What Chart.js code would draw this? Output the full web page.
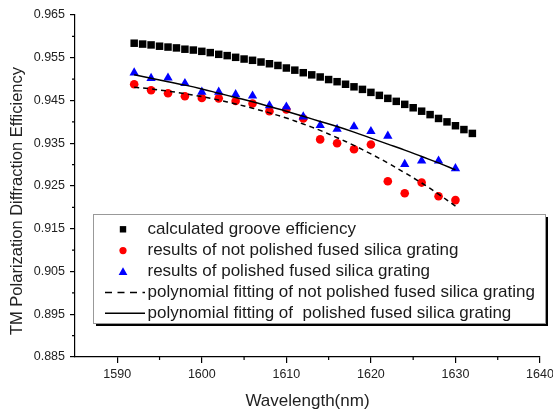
<!DOCTYPE html>
<html>
<head>
<meta charset="utf-8">
<script src="https://cdn.jsdelivr.net/npm/chart.js@4.4.1/dist/chart.umd.min.js"></script>
<style>
  html, body { margin: 0; padding: 0; background: #fff; }
  #wrap { width: 553px; height: 413px; }
</style>
</head>
<body>
<div id="wrap"><canvas id="c" width="553" height="413"></canvas></div>
<script>
const FONT = '"Liberation Sans", Arial, sans-serif';

// calculated groove efficiency (1 nm step)
const calcWl = [1592,1593,1594,1595,1596,1597,1598,1599,1600,1601,1602,1603,1604,1605,1606,1607,1608,1609,1610,1611,
                1612,1613,1614,1615,1616,1617,1618,1619,1620,1621,1622,1623,1624,1625,1626,1627,1628,1629,1630,1631,1632];
const calcEff = [0.9584,0.9582,0.9580,0.9577,0.9575,0.9573,0.9570,0.9568,0.9565,0.9562,0.9558,0.9555,0.9551,0.9547,
                 0.9544,0.9540,0.9536,0.9532,0.9526,0.9521,0.9515,0.9510,0.9505,0.9499,0.9494,0.9488,0.9482,0.9476,
                 0.9469,0.9462,0.9455,0.9448,0.9441,0.9433,0.9425,0.9417,0.9408,0.9400,0.9391,0.9382,0.9373];

// measured gratings (2 nm step)
const measWl = [1592,1594,1596,1598,1600,1602,1604,1606,1608,1610,1612,1614,1616,1618,1620,1622,1624,1626,1628,1630];
const notPolished = [0.9488,0.9474,0.9467,0.9460,0.9456,0.9455,0.9449,0.9443,0.9425,0.9429,0.9408,0.9359,0.9350,0.9336,
                     0.9347,0.9261,0.9233,0.9258,0.9226,0.9217];
const polished = [0.9515,0.9502,0.9503,0.9490,0.9470,0.9470,0.9464,0.9461,0.9438,0.9435,0.9412,0.9392,0.9383,0.9389,
                  0.9378,0.9367,0.9301,0.9309,0.9309,0.9291];

// polynomial fits
const fitNotPolished = [0.9481,0.9477,0.9472,0.9466,0.9459,0.9451,0.9442,0.9432,0.9421,0.9409,0.9395,0.9380,0.9363,
                        0.9345,0.9325,0.9304,0.9281,0.9257,0.9231,0.9203];
const fitPolished = [0.9510,0.9502,0.9494,0.9486,0.9477,0.9467,0.9457,0.9447,0.9436,0.9425,0.9413,0.9401,0.9389,
                     0.9376,0.9362,0.9348,0.9334,0.9319,0.9304,0.9288];

const xTicks = [1590,1600,1610,1620,1630,1640];
const xMinor = [1595,1605,1615,1625,1635];
const yTicks = [0.885,0.895,0.905,0.915,0.925,0.935,0.945,0.955,0.965];
const yMinor = [0.890,0.900,0.910,0.920,0.930,0.940,0.950,0.960];

const seriesLabels = [
  'calculated groove efficiency',
  'results of not polished fused silica grating',
  'results of polished fused silica grating',
  'polynomial fitting of not polished fused silica grating',
  'polynomial fitting of  polished fused silica grating'
];
const yTitle = 'TM Polarization Diffraction Efficiency';
const xTitle = 'Wavelength(nm)';

const pts = (xs, ys) => xs.map((x, i) => ({ x: x, y: ys[i] }));

// minor ticks, rotated y title and the boxed legend
const extras = {
  id: 'extras',
  afterDraw(chart) {
    const ctx = chart.ctx;
    const area = chart.chartArea;
    const x = chart.scales.x, y = chart.scales.y;
    ctx.save();
    ctx.strokeStyle = '#000';
    ctx.lineWidth = 1.2;
    ctx.beginPath();
    yMinor.forEach(v => {
      const py = y.getPixelForValue(v);
      ctx.moveTo(area.left - 3, py); ctx.lineTo(area.left, py);
    });
    xMinor.forEach(v => {
      const px = x.getPixelForValue(v);
      ctx.moveTo(px, area.bottom); ctx.lineTo(px, area.bottom + 3);
    });
    ctx.stroke();

    // y title
    ctx.save();
    ctx.translate(17.5, 201);
    ctx.rotate(-Math.PI / 2);
    ctx.fillStyle = '#222';
    ctx.font = '16.5px ' + FONT;
    ctx.textAlign = 'center';
    ctx.textBaseline = 'middle';
    ctx.fillText(yTitle, 0, 0);
    ctx.restore();

    // legend
    const L = 93, T = 214, R = 545, B = 323;
    ctx.fillStyle = '#000';
    ctx.fillRect(L + 3, T + 3, R - L, B - T);
    ctx.fillStyle = '#fff';
    ctx.fillRect(L, T, R - L, B - T);
    ctx.strokeStyle = '#999';
    ctx.lineWidth = 1;
    ctx.strokeRect(L + 0.5, T + 0.5, R - L, B - T);

    const rows = [229.3, 250.6, 271.7, 292.5, 313.3];
    const sx = 123;
    const ds = chart.data.datasets;
    // square
    ctx.fillStyle = ds[0].backgroundColor;
    ctx.fillRect(sx - 3.2, rows[0] - 3.2, 6.4, 6.4);
    // circle
    ctx.fillStyle = ds[1].backgroundColor;
    ctx.beginPath(); ctx.arc(sx, rows[1], 3.6, 0, Math.PI * 2); ctx.fill();
    // triangle
    ctx.fillStyle = ds[2].backgroundColor;
    ctx.beginPath();
    ctx.moveTo(sx, rows[2] - 4.4);
    ctx.lineTo(sx + 4.4, rows[2] + 3.2);
    ctx.lineTo(sx - 4.4, rows[2] + 3.2);
    ctx.closePath(); ctx.fill();
    // dashed and solid samples
    ctx.strokeStyle = '#000';
    ctx.lineWidth = 1.5;
    ctx.setLineDash([7, 5.5]);
    ctx.beginPath(); ctx.moveTo(105, rows[3]); ctx.lineTo(145, rows[3]); ctx.stroke();
    ctx.setLineDash([]);
    ctx.beginPath(); ctx.moveTo(105, rows[4]); ctx.lineTo(145, rows[4]); ctx.stroke();

    ctx.fillStyle = '#1a1a1a';
    ctx.font = '17px ' + FONT;
    ctx.textAlign = 'left';
    ctx.textBaseline = 'middle';
    ds.forEach((d, i) => ctx.fillText(d.label, 147.5, rows[i]));
    ctx.restore();
  }
};

new Chart(document.getElementById('c'), {
  type: 'scatter',
  data: {
    datasets: [
      { label: seriesLabels[0], data: pts(calcWl, calcEff), pointStyle: 'rect', pointRadius: 5.3,
        backgroundColor: '#000', borderColor: '#000', borderWidth: 0, order: 4 },
      { label: seriesLabels[1], data: pts(measWl, notPolished), pointStyle: 'circle', pointRadius: 4.3,
        backgroundColor: '#ff0000', borderColor: '#ff0000', borderWidth: 0, order: 3 },
      { label: seriesLabels[2], data: pts(measWl, polished), pointStyle: 'triangle', pointRadius: 5.4,
        backgroundColor: '#0000ff', borderColor: '#0000ff', borderWidth: 0, order: 2 },
      { label: seriesLabels[3], data: pts(measWl, fitNotPolished), showLine: true, pointRadius: 0,
        borderColor: '#000', borderWidth: 1.5, borderDash: [5, 4], tension: 0.4, order: 1 },
      { label: seriesLabels[4], data: pts(measWl, fitPolished), showLine: true, pointRadius: 0,
        borderColor: '#000', borderWidth: 1.5, tension: 0.4, order: 0 }
    ]
  },
  options: {
    responsive: false,
    animation: false,
    devicePixelRatio: 1,
    layout: { padding: { left: 0, right: 13, top: 15, bottom: 0 } },
    plugins: { legend: { display: false }, tooltip: { enabled: false } },
    scales: {
      x: {
        type: 'linear', min: 1585, max: 1640,
        afterBuildTicks: s => { s.ticks = xTicks.map(v => ({ value: v })); },
        afterFit: s => { s.height = 56; s.paddingLeft = 0; s.paddingRight = 0; },
        ticks: { color: '#222', font: { family: FONT, size: 12.5 }, padding: 4, maxRotation: 0, autoSkip: false,
                 callback: v => String(v) },
        grid: { drawOnChartArea: false, drawTicks: true, tickLength: 6, color: '#000', lineWidth: 1.2 },
        border: { display: true, color: '#000', width: 1.2 },
        title: { display: true, text: xTitle, color: '#222', font: { family: FONT, size: 17 },
                 padding: { top: 0, bottom: 1 } }
      },
      y: {
        type: 'linear', min: 0.885, max: 0.965,
        afterBuildTicks: s => { s.ticks = yTicks.map(v => ({ value: v })); },
        afterFit: s => { s.width = 75; s.paddingTop = 0; s.paddingBottom = 0; },
        ticks: { color: '#222', font: { family: FONT, size: 12.5 }, padding: 5, autoSkip: false,
                 callback: v => v.toFixed(3) },
        grid: { drawOnChartArea: false, drawTicks: true, tickLength: 5, color: '#000', lineWidth: 1.2 },
        border: { display: true, color: '#000', width: 1.2 }
      }
    }
  },
  plugins: [extras]
});
</script>
</body>
</html>
